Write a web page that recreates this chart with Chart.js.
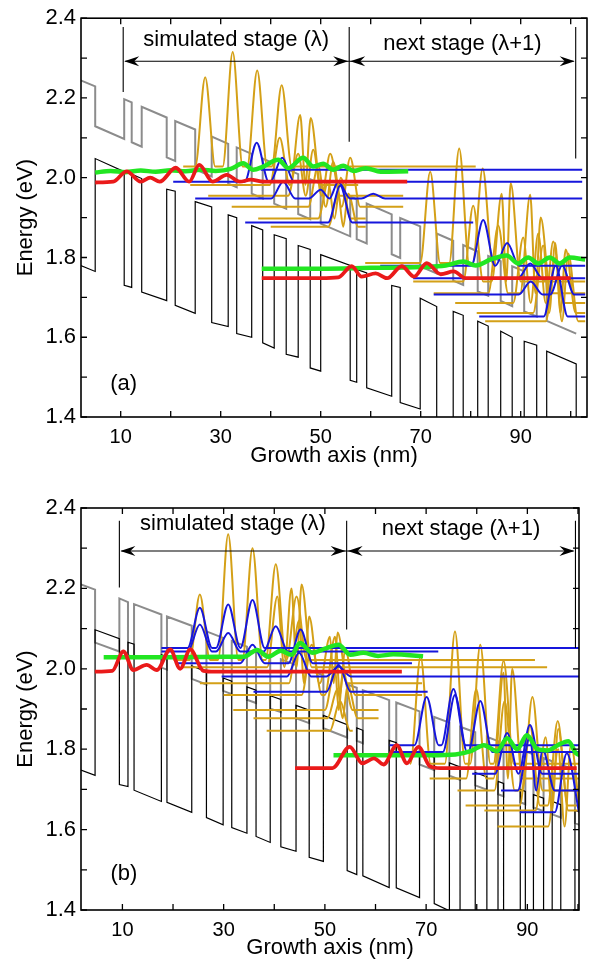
<!DOCTYPE html>
<html>
<head>
<meta charset="utf-8">
<script src="https://cdn.jsdelivr.net/npm/chart.js@4.4.0/dist/chart.umd.min.js"></script>
<style>
  body { margin: 0; background: #fff; width: 594px; height: 964px; position: relative; overflow: hidden; }
  .panel { position: absolute; left: 0; width: 594px; }
</style>
</head>
<body>
<div class="panel" style="top:0;height:470px"><canvas id="chartA"></canvas></div>
<div class="panel" style="top:470px;height:494px"><canvas id="chartB"></canvas></div>
<script>
const FONT = '"Liberation Sans", Arial, sans-serif';

// ---------- axis labels ----------
const xTickLabels = [10, 30, 50, 70, 90];
const yTickLabels = [1.4, 1.6, 1.8, 2.0, 2.2, 2.4];
const stageText = ['simulated stage (\u03bb)', 'next stage (\u03bb+1)'];

// ---------- panel (a) ----------
const cbA = [[2,1.78],[4.9,1.765],[4.9,2.048],[10.7,2.015],[10.7,1.73],[12.2,1.725],[12.2,2.009],[14.2,1.998],[14.2,1.713],[19.2,1.692],[19.2,1.971],[20.9,1.966],[20.9,1.68],[24.9,1.66],[24.9,1.94],[28.2,1.927],[28.2,1.637],[31.5,1.627],[31.5,1.907],[33.2,1.9],[33.2,1.609],[36.2,1.6],[36.2,1.88],[38.4,1.869],[38.4,1.586],[40.7,1.573],[40.7,1.857],[43.1,1.847],[43.1,1.557],[45.5,1.55],[45.5,1.83],[47.9,1.82],[47.9,1.523],[50,1.515],[50,1.807],[55.9,1.78],[55.9,1.492],[57.2,1.487],[57.2,1.77],[59.2,1.761],[59.2,1.473],[64.2,1.452],[64.2,1.73],[65.9,1.725],[65.9,1.436],[69.9,1.42],[69.9,1.698],[73.2,1.677],[73.2,1.39],[76.5,1.38],[76.5,1.665],[78.5,1.655],[78.5,1.37],[81.4,1.36],[81.4,1.64],[83.5,1.628],[83.5,1.35],[86,1.34],[86,1.615],[88.3,1.6],[88.3,1.33],[90.7,1.32],[90.7,1.59],[93.2,1.58],[93.2,1.31],[95.2,1.3],[95.2,1.565],[101.1,1.533],[101.1,1.29],[104,1.28]];
const vbA = [[2,2.244],[4.9,2.229],[4.9,2.129],[10.7,2.097],[10.7,2.197],[12.2,2.189],[12.2,2.089],[14.2,2.078],[14.2,2.178],[19.2,2.151],[19.2,2.051],[20.9,2.042],[20.9,2.142],[24.9,2.121],[24.9,2.021],[28.2,2.003],[28.2,2.103],[31.5,2.085],[31.5,1.985],[33.2,1.976],[33.2,2.076],[36.2,2.06],[36.2,1.96],[38.4,1.948],[38.4,2.048],[40.7,2.035],[40.7,1.935],[43.1,1.922],[43.1,2.022],[45.5,2.009],[45.5,1.909],[47.9,1.896],[47.9,1.996],[50,1.985],[50,1.885],[55.9,1.853],[55.9,1.953],[57.2,1.946],[57.2,1.846],[59.2,1.835],[59.2,1.935],[64.2,1.908],[64.2,1.808],[65.9,1.799],[65.9,1.899],[69.9,1.878],[69.9,1.778],[73.2,1.76],[73.2,1.86],[76.5,1.842],[76.5,1.742],[78.5,1.731],[78.5,1.831],[81.4,1.815],[81.4,1.715],[83.5,1.704],[83.5,1.804],[86,1.791],[86,1.691],[88.3,1.678],[88.3,1.778],[90.7,1.765],[90.7,1.665],[93.2,1.652],[93.2,1.752],[95.2,1.741],[95.2,1.641],[101.1,1.609]];

const goldBaseA  = [2.028, 1.982, 1.955, 1.927, 1.898, 1.877, 1.786, 1.74, 1.71, 1.686, 1.661, 1.64];
const goldFromA  = [22.5, 23.9, 27.5, 32.2, 37.5, 40, 58.9, 68.5, 72.6, 76.9, 81.2, 82.9];
const goldToA    = [81, 57.5, 66.5, 66.5, 59, 59, 85, 102.9, 102.9, 102.9, 102.9, 102.9];
const goldPeaksA = [
  [[26.9,2.252],[32.4,2.315],[37.3,2.269],[42.2,2.232]],
  [[41.8,2.1],[45.9,2.157],[48,2.15]],
  [[45.5,2.06],[48.5,2.07],[51.9,2.06]],
  [[49.5,2.03],[52.5,2.04],[55.9,2.05]],
  [[51.5,1.99],[54,2.0]],
  [[53.5,1.96],[55.5,1.96]],
  [[71.9,2.015],[77.7,2.073],[82.4,2.023]],
  [[80.5,1.93],[86.2,1.96],[88,1.986]],
  [[85.5,1.88],[91.9,1.957],[94,1.9]],
  [[90.5,1.85],[93.5,1.86],[96.5,1.84]],
  [[94.5,1.83],[96.9,1.836],[99,1.82]],
  [[97,1.8],[99.5,1.81]]
];
const blueBaseA  = [1.99, 2.02, 1.948, 1.888, 1.779, 1.748, 1.707, 1.652];
const blueFromA  = [20.5, 38, 24.9, 34.9, 61.9, 68.5, 72.6, 81.7];
const blueToA    = [102.3, 102.3, 102.3, 80.5, 102.9, 102.9, 102.9, 102.9];
const bluePeaksA = [
  [[37.2,2.088],[42.3,2.05]],
  [],
  [[42.5,1.99],[50,1.97],[53.5,1.99],[60.5,1.96]],
  [[53.9,1.98]],
  [[82.5,1.894],[87.3,1.836]],
  [[91.9,1.785]],
  [[92,1.74],[98.3,1.78]],
  [[97,1.78]]
];
const greenA1 = [[4.9,2.013],[8,2.017],[11,2.014],[14,2.018],[17,2.015],[20,2.019],[23,2.016],[26,2.02],[29,2.017],[32,2.022],[34.5,2.036],[36.5,2.02],[38.5,2.028],[41.5,2.045],[43.5,2.024],[46.5,2.05],[48.5,2.028],[50.5,2.035],[52.5,2.02],[54.5,2.03],[56.5,2.017],[59,2.024],[62,2.015],[67.5,2.016]];
const redA1 = [[4.9,1.988],[8.5,1.99],[11.2,2.016],[14,1.99],[15.9,2.0],[17.8,1.99],[21,2.025],[23.7,1.99],[25.7,2.032],[28.4,1.99],[31.2,2.007],[33.8,1.99],[36,1.995],[38.5,1.99],[67.3,1.99]];
const greenA2 = [[38.2,1.772],[50,1.772],[60,1.774],[70,1.776],[75,1.78],[78.5,1.79],[81,1.78],[84,1.795],[87.2,1.805],[89.5,1.785],[91.5,1.8],[93.5,1.785],[95.8,1.8],[97.8,1.785],[99.8,1.8],[102.9,1.795]];
const redA2 = [[38.2,1.748],[50,1.748],[53.5,1.75],[56.2,1.778],[58.2,1.752],[61,1.76],[63.3,1.748],[66.2,1.778],[68.7,1.752],[71.2,1.786],[74,1.758],[76.6,1.765],[79,1.748],[100,1.748]];

// ---------- panel (b) ----------
const cbB = [[1.8,1.748],[4.6,1.735],[4.6,2.097],[9.4,2.075],[9.4,1.712],[11.1,1.707],[11.1,2.066],[12.3,2.061],[12.3,1.698],[17.7,1.67],[17.7,2.035],[18.8,2.03],[18.8,1.668],[23.7,1.643],[23.7,2.007],[26.6,1.993],[26.6,1.63],[29.9,1.612],[29.9,1.977],[31.6,1.969],[31.6,1.605],[34.6,1.591],[34.6,1.955],[36.4,1.947],[36.4,1.583],[39.2,1.568],[39.2,1.933],[41.3,1.924],[41.3,1.557],[44.3,1.546],[44.3,1.909],[46.9,1.897],[46.9,1.531],[49.7,1.521],[49.7,1.884],[54.4,1.861],[54.4,1.498],[56.3,1.488],[56.3,1.853],[57.5,1.847],[57.5,1.485],[62.7,1.456],[62.7,1.822],[64.1,1.816],[64.1,1.455],[68.7,1.431],[68.7,1.794],[71.6,1.78],[71.6,1.416],[74.6,1.398],[74.6,1.766],[76.7,1.756],[76.7,1.39],[79.7,1.38],[79.7,1.742],[82,1.731],[82,1.37],[84.2,1.36],[84.2,1.72],[85.3,1.715],[85.3,1.36],[88.6,1.35],[88.6,1.7],[89.6,1.695],[89.6,1.35],[91.2,1.34],[91.2,1.687],[93.2,1.678],[93.2,1.34],[94.9,1.33],[94.9,1.67],[96.6,1.662],[96.6,1.33],[99.4,1.32],[99.4,1.648],[101,1.64]];
const vbB = [[1.8,2.21],[4.6,2.197],[4.6,2.065],[9.4,2.043],[9.4,2.175],[11.1,2.166],[11.1,2.034],[12.3,2.029],[12.3,2.161],[17.7,2.135],[17.7,2.003],[18.8,1.998],[18.8,2.13],[23.7,2.107],[23.7,1.975],[26.6,1.961],[26.6,2.093],[29.9,2.077],[29.9,1.945],[31.6,1.937],[31.6,2.069],[34.6,2.055],[34.6,1.923],[36.4,1.915],[36.4,2.047],[39.2,2.033],[39.2,1.901],[41.3,1.892],[41.3,2.024],[44.3,2.009],[44.3,1.877],[46.9,1.865],[46.9,1.997],[49.7,1.984],[49.7,1.852],[54.4,1.829],[54.4,1.961],[56.3,1.953],[56.3,1.821],[57.5,1.815],[57.5,1.947],[62.7,1.922],[62.7,1.79],[64.1,1.784],[64.1,1.916],[68.7,1.894],[68.7,1.762],[71.6,1.748],[71.6,1.88],[74.6,1.866],[74.6,1.734],[76.7,1.724],[76.7,1.856],[79.7,1.842],[79.7,1.71],[82,1.699],[82,1.831],[84.2,1.82],[84.2,1.688],[85.3,1.683],[85.3,1.815],[88.6,1.8],[88.6,1.668],[89.6,1.663],[89.6,1.795],[91.2,1.787],[91.2,1.655],[93.2,1.646],[93.2,1.778],[94.9,1.77],[94.9,1.638],[96.6,1.63],[96.6,1.762],[99.4,1.748],[99.4,1.616],[101,1.608]];

const goldBaseB  = [2.022, 2.004, 1.964, 1.935, 1.8975, 1.877, 1.846, 1.764, 1.727, 1.6975, 1.66, 1.6475, 1.6075];
const goldFromB  = [20.1, 21.7, 25.3, 30, 31.9, 35.9, 38.5, 66.8, 70.7, 76.2, 77.8, 81.5, 84.1];
const goldToB    = [91.5, 93.9, 69.2, 69.2, 60.6, 60.6, 55.5, 100.2, 100.2, 100.2, 100.2, 100.2, 100.2];
const goldPeaksB = [
  [[25.3,2.185],[30.9,2.335],[35.7,2.3],[40.3,2.26],[44.4,2.18]],
  [[40.6,2.18],[43.4,2.2],[45.4,2.21]],
  [[44.9,2.12],[46.9,2.13],[51,2.08],[52.5,2.09]],
  [[47.4,2.06],[52,2.08],[54,2.05]],
  [[52,2.0],[53.5,1.99]],
  [[52.5,1.95],[54.5,1.96]],
  [[53,1.92]],
  [[68.9,2.03],[75.7,2.093],[80.7,2.06],[85.3,2.02]],
  [[79.9,1.95],[85.3,1.99],[87,2.0]],
  [[85.5,1.92],[91,1.93]],
  [[90.5,1.86],[96,1.87]],
  [[93.6,1.83],[96.1,1.85]],
  [[96.1,1.8],[98.6,1.81]]
];
const blueBaseB  = [2.052, 2.043, 2.014, 1.981, 1.943, 1.81, 1.793, 1.739, 1.6975, 1.643];
const blueFromB  = [17.7, 17.7, 20.8, 29.6, 35.9, 62.8, 62.8, 79.1, 84.8, 88.5];
const blueToB    = [100.2, 72.4, 67.2, 100.2, 70.3, 100.2, 100.2, 100.2, 100.2, 100.2];
const bluePeaksB = [
  [[25.3,2.152],[30.9,2.16],[35.7,2.171]],
  [[25.3,2.11],[30.9,2.089],[40.3,2.106]],
  [[35.7,2.06],[45.2,2.0975]],
  [[44.9,2.04],[52.7,2.006]],
  [[52.7,2.01]],
  [[70.1,1.93],[75.4,1.95]],
  [[75.7,1.935],[80.7,1.92]],
  [[86,1.84],[90.5,1.86]],
  [[90.5,1.83],[93,1.8]],
  [[97.8,1.79]]
];
const greenB1 = [[6.3,2.029],[20,2.029],[30,2.03],[34,2.03],[36.6,2.047],[38.8,2.03],[41.3,2.045],[43.4,2.035],[45.1,2.064],[47.5,2.04],[50,2.05],[52.7,2.06],[55,2.035],[57.6,2.04],[60.5,2.032],[63.5,2.036],[69.4,2.031]];
const redB1 = [[4.55,1.993],[8,1.995],[10.2,2.043],[12.15,1.997],[14.8,2.01],[16.8,1.997],[19.45,2.048],[21.4,2.0],[23.4,2.048],[26,1.995],[28.2,1.993],[65.2,1.993]];
const greenB2 = [[51.7,1.785],[70.7,1.785],[75.8,1.787],[78.8,1.795],[81.4,1.81],[84,1.795],[86,1.827],[88,1.8],[89.9,1.835],[92,1.8],[94,1.797],[96,1.81],[98.1,1.82],[99.6,1.79],[100.5,1.785]];
const redB2 = [[44.1,1.753],[51.5,1.753],[54.9,1.806],[57.4,1.765],[59.7,1.777],[61.6,1.762],[64.2,1.81],[66.2,1.765],[68.5,1.806],[70.7,1.758],[72.8,1.753],[99.75,1.753]];

// ---------- stage markers (x positions, lower ends) ----------
const stageXA = [10.5, 55.7, 101];
const stageBotA = [2.215, 2.09, 2.048];
const stageXB = [9.4, 54.3, 99.5];
const stageBotB = [2.202, 2.0975, 2.052];

const GOLD = '#d4a017', BLUE = '#1616dc', GREEN = '#22e622', RED = '#ea1a1a', GRAY = '#8c8c8c';
const GOLD_W = 2.0, BLUE_W = 2.4;

// build a level line with smooth bumps at the read peaks
function bumps(base, from, to, peaks, w) {
  const pts = [[from, base]];
  peaks.forEach(([xp, yp], i) => {
    const prev = pts[pts.length - 1][0];
    const left = Math.max(xp - w, prev);
    if (left > prev) pts.push([left, base]);
    pts.push([xp, yp]);
    const nxt = peaks[i + 1];
    pts.push([nxt ? Math.min(xp + w, (xp + nxt[0]) / 2) : xp + w, base]);
  });
  if (to > pts[pts.length - 1][0]) pts.push([to, base]);
  return pts;
}

function line(points, color, width, order, smooth) {
  return {
    data: points.map(p => ({ x: p[0], y: p[1] })),
    borderColor: color,
    borderWidth: width,
    pointRadius: 0,
    fill: false,
    order: order,
    tension: smooth ? 0.4 : 0,
    cubicInterpolationMode: smooth ? 'monotone' : 'default'
  };
}

function arrowHead(ctx, x, y, dir) {
  ctx.beginPath();
  ctx.moveTo(x, y);
  ctx.lineTo(x - dir * 15, y - 5);
  ctx.lineTo(x - dir * 10, y);
  ctx.lineTo(x - dir * 15, y + 5);
  ctx.closePath();
  ctx.fill();
}

const overlay = {
  id: 'overlay',
  afterDatasetsDraw(chart, args, o) {
    const { ctx, chartArea: a, scales: { x, y } } = chart;
    ctx.save();
    ctx.strokeStyle = '#000';
    ctx.fillStyle = '#000';
    // frame
    ctx.lineWidth = 1.6;
    ctx.strokeRect(a.left, a.top, a.right - a.left, a.bottom - a.top);
    // inward ticks on all sides
    ctx.lineWidth = 1.3;
    ctx.beginPath();
    x.ticks.forEach(t => {
      const p = x.getPixelForValue(t.value);
      ctx.moveTo(p, a.bottom); ctx.lineTo(p, a.bottom - 6);
      ctx.moveTo(p, a.top); ctx.lineTo(p, a.top + 6);
    });
    y.ticks.forEach(t => {
      const p = y.getPixelForValue(t.value);
      ctx.moveTo(a.left, p); ctx.lineTo(a.left + 6, p);
      ctx.moveTo(a.right, p); ctx.lineTo(a.right - 6, p);
    });
    ctx.stroke();
    // stage markers and arrows
    ctx.lineWidth = 1.1;
    ctx.beginPath();
    o.marks.forEach((m, i) => {
      const px = x.getPixelForValue(m);
      ctx.moveTo(px, y.getPixelForValue(o.top));
      ctx.lineTo(px, y.getPixelForValue(o.bottoms[i]));
    });
    const ay = y.getPixelForValue(o.arrowY);
    const p0 = x.getPixelForValue(o.marks[0]);
    const p2 = x.getPixelForValue(o.marks[2]);
    ctx.moveTo(p0 + 2, ay); ctx.lineTo(p2 - 2, ay);
    ctx.stroke();
    const p1 = x.getPixelForValue(o.marks[1]);
    arrowHead(ctx, p0 + 1, ay, -1);
    arrowHead(ctx, p1 - 1, ay, 1);
    arrowHead(ctx, p1 + 1, ay, -1);
    arrowHead(ctx, p2 - 1, ay, 1);
    // texts
    ctx.font = '22px ' + FONT;
    ctx.textAlign = 'center';
    ctx.textBaseline = 'middle';
    ctx.fillText(stageText[0], x.getPixelForValue((o.marks[0] + o.marks[1]) / 2), y.getPixelForValue(o.textY[0]));
    ctx.fillText(stageText[1], x.getPixelForValue((o.marks[1] + o.marks[2]) / 2), y.getPixelForValue(o.textY[1]));
    ctx.fillText(o.tag, x.getPixelForValue(o.tagAt[0]), y.getPixelForValue(o.tagAt[1]));
    ctx.restore();
  }
};

function makePanel(id, p) {
  const datasets = [];
  datasets.push(line(p.cb, '#000', 1.2, 6, false));
  datasets.push(line(p.vb, GRAY, 2, 7, false));
  p.goldBase.forEach((b, i) => datasets.push(line(bumps(b, p.goldFrom[i], p.goldTo[i], p.goldPeaks[i], GOLD_W), GOLD, 2, 5, true)));
  p.blueBase.forEach((b, i) => datasets.push(line(bumps(b, p.blueFrom[i], p.blueTo[i], p.bluePeaks[i], BLUE_W), BLUE, 2, 4, true)));
  p.green.forEach(g => datasets.push(line(g, GREEN, 4.5, 3, true)));
  p.red.forEach(r => datasets.push(line(r, RED, 3.8, 2, true)));

  new Chart(document.getElementById(id), {
    type: 'line',
    data: { datasets },
    options: {
      responsive: true,
      maintainAspectRatio: false,
      animation: false,
      events: [],
      layout: { padding: { top: p.padTop, right: p.padRight, left: 0, bottom: 0 } },
      plugins: {
        legend: { display: false },
        tooltip: { enabled: false },
        overlay: p.overlay
      },
      scales: {
        x: {
          type: 'linear',
          min: p.xmin,
          max: p.xmax,
          afterFit: s => { s.height = p.xAxisH; },
          grid: { display: false, drawTicks: false },
          border: { display: false },
          ticks: {
            stepSize: 10,
            includeBounds: false,
            autoSkip: false,
            maxRotation: 0,
            padding: 8,
            color: '#000',
            font: { family: FONT, size: 20 },
            callback: v => xTickLabels.includes(v) ? String(v) : ''
          },
          title: {
            display: true,
            text: 'Growth axis (nm)',
            color: '#000',
            font: { family: FONT, size: 22 },
            padding: { top: 0, bottom: p.xTitlePad }
          }
        },
        y: {
          min: 1.4,
          max: 2.4,
          afterFit: s => { s.width = 81; },
          grid: { display: false, drawTicks: false },
          border: { display: false },
          ticks: {
            stepSize: 0.1,
            autoSkip: false,
            padding: 5,
            color: '#000',
            font: { family: FONT, size: 22 },
            callback: v => yTickLabels.includes(Math.round(v * 10) / 10) ? v.toFixed(1) : ''
          },
          title: {
            display: true,
            text: 'Energy (eV)',
            color: '#000',
            font: { family: FONT, size: 22 },
            padding: { top: 13, bottom: 0 }
          }
        }
      }
    },
    plugins: [overlay]
  });
}

makePanel('chartA', {
  cb: cbA, vb: vbA,
  goldBase: goldBaseA, goldFrom: goldFromA, goldTo: goldToA, goldPeaks: goldPeaksA,
  blueBase: blueBaseA, blueFrom: blueFromA, blueTo: blueToA, bluePeaks: bluePeaksA,
  green: [greenA1, greenA2], red: [redA1, redA2],
  xmin: 2.06, xmax: 103.26, padTop: 15, padRight: 7, xAxisH: 53, xTitlePad: 1,
  overlay: { marks: stageXA, top: 2.378, bottoms: stageBotA, arrowY: 2.292, textY: [2.345, 2.335], tag: '(a)', tagAt: [10.6, 1.4825] }
});

makePanel('chartB', {
  cb: cbB, vb: vbB,
  goldBase: goldBaseB, goldFrom: goldFromB, goldTo: goldToB, goldPeaks: goldPeaksB,
  blueBase: blueBaseB, blueFrom: blueFromB, blueTo: blueToB, bluePeaks: bluePeaksB,
  green: [greenB1, greenB2], red: [redB1, redB2],
  xmin: 1.82, xmax: 100.2, padTop: 38, padRight: 15, xAxisH: 54, xTitlePad: 3,
  overlay: { marks: stageXB, top: 2.368, bottoms: stageBotB, arrowY: 2.293, textY: [2.36, 2.3475], tag: '(b)', tagAt: [10.3, 1.49] }
});
</script>
</body>
</html>
